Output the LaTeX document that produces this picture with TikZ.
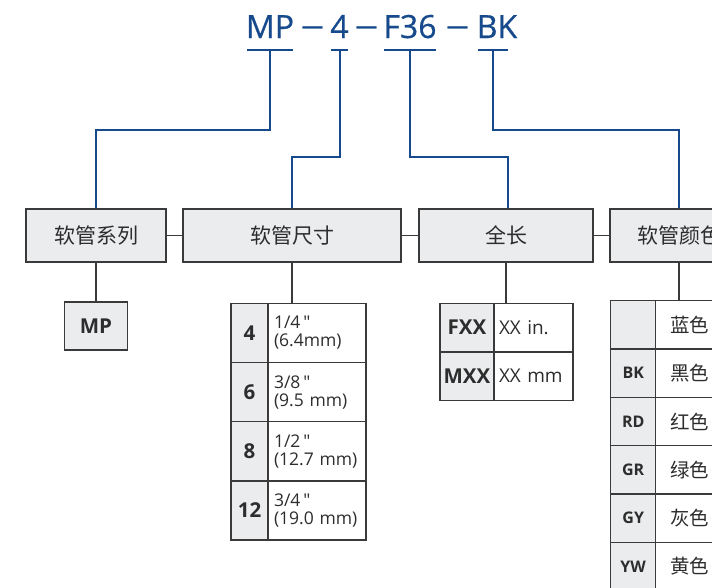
\documentclass[tikz,border=0pt]{standalone}
\usepackage{fontspec}
\setmainfont{Open Sans}
\newfontfamily\valfont{Open Sans}
\newfontfamily\codefont{Open Sans}[FakeBold=0.6]
\newfontfamily\cjk{Noto Sans CJK SC}
\definecolor{codeblue}{RGB}{22,74,140}
\definecolor{linegray}{RGB}{58,58,58}
\definecolor{boxfill}{RGB}{235,236,238}
\definecolor{txtgray}{RGB}{45,45,45}
\begin{document}
\begin{tikzpicture}[x=1pt,y=-1pt,
  code/.style={inner sep=0pt, anchor=base, text=codeblue, font=\codefont\fontsize{32}{36}\selectfont},
  dashtxt/.style={inner sep=0pt, anchor=base, text=codeblue, font=\valfont\fontsize{32}{36}\selectfont},
  blueline/.style={draw=codeblue, line width=2pt},
  grayline/.style={draw=linegray, line width=1.4pt},
  cat/.style={draw=linegray, line width=1.4pt, fill=boxfill, minimum height=53pt, inner sep=0pt, text=txtgray, font=\cjk\fontsize{21}{24}\selectfont},
  keycell/.style={draw=linegray, line width=1.4pt, fill=boxfill, inner sep=0pt, text=txtgray, font=\bfseries\fontsize{20.5}{24}\selectfont},
  valcell/.style={draw=linegray, line width=1.4pt, fill=white, inner xsep=6pt, inner ysep=0pt, align=left, text=txtgray, font=\valfont\fontsize{17.5}{18}\selectfont},
  colkey/.style={keycell, minimum width=45pt, minimum height=48.3pt, font=\bfseries\fontsize{16}{19}\selectfont},
  colval/.style={draw=linegray, line width=1.4pt, fill=white, inner sep=0pt, minimum width=71pt, minimum height=48.3pt},
  coltxt/.style={inner sep=0pt, anchor=west, text=txtgray, font=\cjk\fontsize{19.5}{22}\selectfont},
]
\useasboundingbox (0,0) rectangle (712,587);
\clip (0,0) rectangle (712,587);

% code line
\node[code] (cMP) at (270,38) {MP};
\node[dashtxt] (d1) at (312.5,36.5) {\scalebox{1.5}[1]{–}};
\node[code] (c4) at (339.5,38) {4};
\node[dashtxt] (d2) at (366.5,36.5) {\scalebox{1.5}[1]{–}};
\node[code] (cF) at (410,38) {F36};
\node[dashtxt] (d3) at (457.5,36.5) {\scalebox{1.5}[1]{–}};
\node[code] (cBK) at (497,38) {BK};

\coordinate (uMPl) at (247,50); \coordinate (uMPr) at (293,50); \coordinate (uMP) at (270,50);
\coordinate (u4l) at (331,50); \coordinate (u4r) at (348,50); \coordinate (u4) at (339.5,50);
\coordinate (uFl) at (384,50); \coordinate (uFr) at (436,50); \coordinate (uF) at (410,50);
\coordinate (uBl) at (478,50); \coordinate (uBr) at (508,50); \coordinate (uB) at (493,50);
\draw[blueline] (uMPl) -- (uMPr);
\draw[blueline] (u4l) -- (u4r);
\draw[blueline] (uFl) -- (uFr);
\draw[blueline] (uBl) -- (uBr);

% category boxes
\node[cat, minimum width=140pt] (b1) at (96,235.5) {软管系列};
\node[cat, minimum width=218pt] (b2) at (292,235.5) {软管尺寸};
\node[cat, minimum width=174pt] (b3) at (506,235.5) {全长};
\node[cat, minimum width=138pt] (b4) at (679,235.5) {软管颜色};

\draw[blueline] (uMP) -- ++(0,80) -| (b1.north);
\draw[blueline] (u4) -- ++(0,107) -| (b2.north);
\draw[blueline] (uF) -- ++(0,107) -| ([xshift=2pt]b3.north);
\draw[blueline] (uB) -- ++(0,80) -| (b4.north);

\draw[grayline] (b1.east) -- (b2.west);
\draw[grayline] (b2.east) -- (b3.west);
\draw[grayline] (b3.east) -- (b4.west);

% series
\node[keycell, minimum width=63pt, minimum height=48pt] (mp) at (96,326) {MP};

% size table
\node[keycell, minimum width=37pt, minimum height=59.2pt] (s1k) at (249.5,332.9) {4};
\node[valcell, text width=86pt, minimum height=59.2pt] (s1v) at (317,332.9) {1/4\,"\\(6.4mm)};
\node[keycell, minimum width=37pt, minimum height=59.2pt] (s2k) at (249.5,392.1) {6};
\node[valcell, text width=86pt, minimum height=59.2pt] (s2v) at (317,392.1) {3/8\,"\\(9.5 mm)};
\node[keycell, minimum width=37pt, minimum height=59.2pt] (s3k) at (249.5,451.3) {8};
\node[valcell, text width=86pt, minimum height=59.2pt] (s3v) at (317,451.3) {1/2\,"\\(12.7 mm)};
\node[keycell, minimum width=37pt, minimum height=59.2pt] (s4k) at (249.5,510.5) {12};
\node[valcell, text width=86pt, minimum height=59.2pt] (s4v) at (317,510.5) {3/4\,"\\(19.0 mm)};

% length table
\node[keycell, minimum width=54pt, minimum height=48.5pt] (l1k) at (467,327.6) {FXX};
\node[valcell, text width=69pt, inner xsep=5pt, minimum height=48.5pt, font=\valfont\fontsize{19}{21}\selectfont] (l1v) at (533.5,327.6) {XX in.};
\node[keycell, minimum width=54pt, minimum height=48.5pt] (l2k) at (467,376.1) {MXX};
\node[valcell, text width=69pt, inner xsep=5pt, minimum height=48.5pt, font=\valfont\fontsize{19}{21}\selectfont] (l2v) at (533.5,376.1) {XX mm};

% colour table
\node[colkey] (k1) at (633.2,324.9) {};
\node[colval] (v1) at (691.2,324.9) {};
\node[colkey] (k2) at (633.2,373.2) {BK};
\node[colval] (v2) at (691.2,373.2) {};
\node[colkey] (k3) at (633.2,421.5) {RD};
\node[colval] (v3) at (691.2,421.5) {};
\node[colkey] (k4) at (633.2,469.8) {GR};
\node[colval] (v4) at (691.2,469.8) {};
\node[colkey] (k5) at (633.2,518.1) {GY};
\node[colval] (v5) at (691.2,518.1) {};
\node[colkey] (k6) at (633.2,566.4) {YW};
\node[colval] (v6) at (691.2,566.4) {};
\node[coltxt] (t1) at (670,324.9) {蓝色};
\node[coltxt] (t2) at (670,373.2) {黑色};
\node[coltxt] (t3) at (670,421.5) {红色};
\node[coltxt] (t4) at (670,469.8) {绿色};
\node[coltxt] (t5) at (670,518.1) {灰色};
\node[coltxt] (t6) at (670,566.4) {黄色};

% down connectors
\draw[grayline] (b1.south) -- (mp.north);
\draw[grayline] (b2.south) -- (b2.south |- s1v.north);
\draw[grayline] (b3.south) -- (b3.south |- l1v.north);
\draw[grayline] (b4.south) -- (b4.south |- v1.north);
\end{tikzpicture}
\end{document}
